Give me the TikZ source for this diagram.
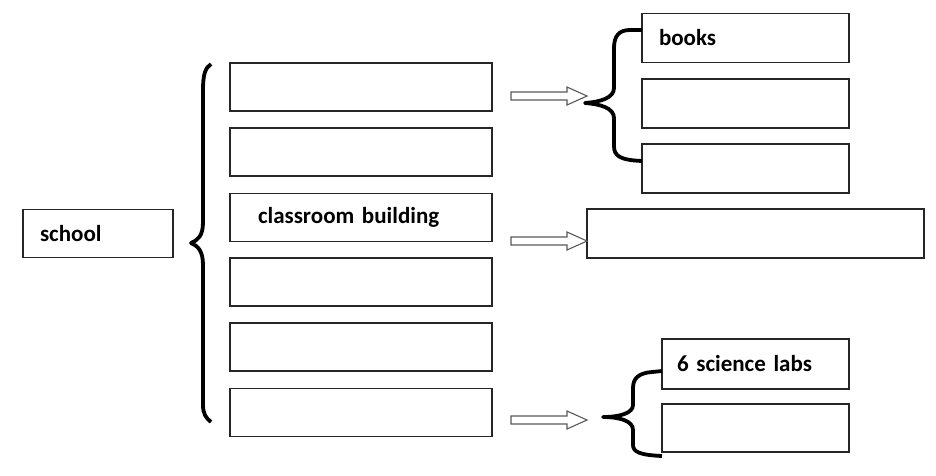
\documentclass[tikz,border=0pt]{standalone}
\usepackage{fontspec}
\setmainfont{Carlito}
\begin{document}
\begin{tikzpicture}[x=1pt,y=-1pt,
  box/.style={draw=black!85,line width=1.3pt,minimum height=#1,inner ysep=0pt,font=\bfseries\fontsize{23}{26}\selectfont,align=left},
  box/.default=48pt,
  brace/.style={draw=black,line width=3.8pt,line cap=butt,line join=round},
  hollow/.style={draw=black!65,line width=1.1pt,fill=white}]
\useasboundingbox (0,0) rectangle (936,475);
% school
\node[box,inner xsep=17pt,text width=116pt] (school) at (98,233.5) {school};
% middle column
\node[box,inner xsep=28pt,text width=206pt] (m1) at (361,87) {};
\node[box,inner xsep=28pt,text width=206pt] (m2) at (361,152) {};
\node[box,inner xsep=28pt,text width=206pt] (m3) at (361,217.5) {classroom building};
\node[box,inner xsep=28pt,text width=206pt] (m4) at (361,282) {};
\node[box,inner xsep=28pt,text width=206pt] (m5) at (361,347) {};
\node[box,inner xsep=28pt,text width=206pt] (m6) at (361,412.5) {};
% right top
\node[box=49pt,inner xsep=17pt,text width=173pt] (r1) at (745.5,38) {books};
\node[box=49pt,inner xsep=17pt,text width=173pt] (r2) at (745.5,103.5) {};
\node[box=49pt,inner xsep=17pt,text width=173pt] (r3) at (745.5,168.5) {};
% right middle
\node[box=49pt,inner xsep=17pt,text width=303pt] (rm) at (755.5,233.5) {};
% right bottom
\node[box=50pt,inner xsep=15pt,text width=157pt] (b1) at (755.5,364) {6 science labs};
\node[box=48pt,inner xsep=15pt,text width=157pt] (b2) at (755.5,428) {};
% big brace
\draw[brace] (211,64) .. controls (205,68) and (203,75) .. (203,90) -- (203,222)
  .. controls (203,236) and (198,240) .. (191,243)
  .. controls (198,246) and (203,251) .. (203,265) -- (203,405)
  .. controls (203,414) and (206,418) .. (211,422);
% brace 1
\draw[brace] (642,30) -- (630,30) .. controls (619,30) and (614,36) .. (614,48) -- (614,88)
  .. controls (614,98) and (600,102) .. (585,103)
  .. controls (600,104) and (614,108) .. (614,118) -- (614,146)
  .. controls (614,156) and (620,160) .. (642,161);
% brace 3
\draw[brace] (662,371) -- (652,372) .. controls (639,373) and (633,378) .. (633,388) -- (633,405)
  .. controls (633,413) and (620,417) .. (603,417)
  .. controls (620,417) and (633,421) .. (633,430) -- (633,445)
  .. controls (633,452) and (640,455) .. (662,456);
% hollow arrows
\foreach \y/\n in {88/a1,233/a2,412/a3}{
  \coordinate (\n) at (511,\y);
  \draw[hollow] ([yshift=-4pt]\n) -- ++(56,0) -- ++(0,-5) -- ++(20,9) -- ++(-20,9) -- ++(0,-5) -- ++(-56,0) -- cycle;
}
\end{tikzpicture}
\end{document}
